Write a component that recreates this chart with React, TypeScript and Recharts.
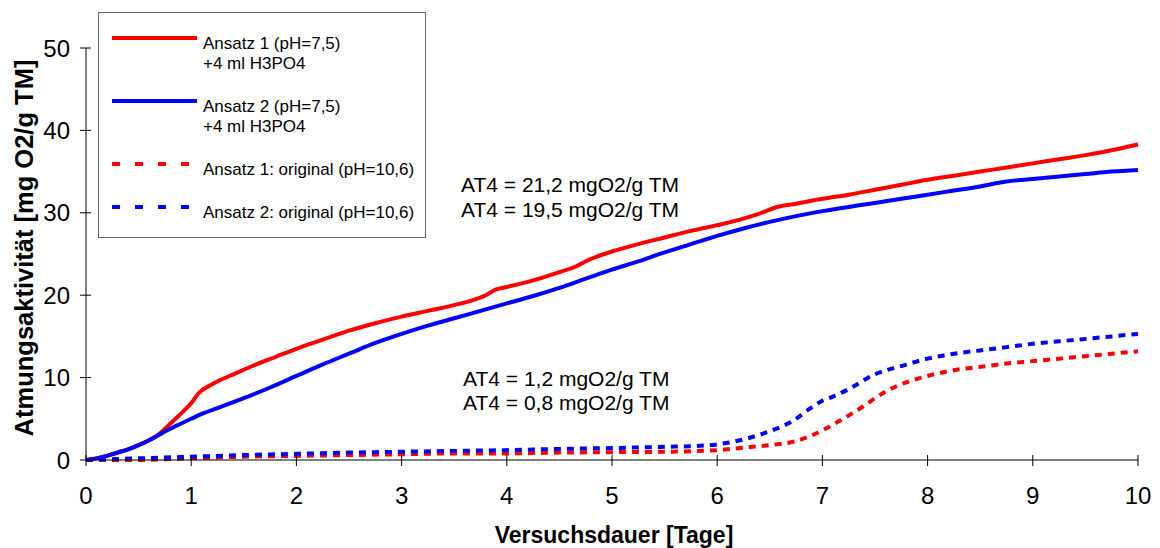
import { Line, LineChart, XAxis, YAxis } from "recharts";

const FONT = '"Liberation Sans", Arial, sans-serif';
const RED = "#ff0000";
const BLUE = "#0000ff";

// tick labels
const dayTicks = [0, 1, 2, 3, 4, 5, 6, 7, 8, 9, 10];
const valueTicks = [0, 10, 20, 30, 40, 50];

// Ansatz 1, pH 7,5 (+4 ml H3PO4)
const ansatz1Days = [
  0, 0.1, 0.2, 0.3, 0.4, 0.5, 0.6, 0.7, 0.8, 0.9, 1.0, 1.07, 1.2, 1.4, 1.6, 1.8, 2.0, 2.25, 2.5, 2.75,
  3.0, 3.25, 3.5, 3.7, 3.8, 3.9, 4.0, 4.25, 4.5, 4.62, 4.8, 5.0, 5.25, 5.5, 5.75, 6.0, 6.25, 6.4, 6.57,
  6.75, 7.0, 7.25, 7.5, 7.75, 8.0, 8.25, 8.5, 8.75, 9.0, 9.25, 9.5, 9.75, 10,
];
const ansatz1 = [
  0, 0.2, 0.5, 0.9, 1.3, 1.8, 2.4, 3.2, 4.4, 5.6, 6.9, 8.1, 9.2, 10.4, 11.5, 12.5, 13.5, 14.6, 15.7, 16.6,
  17.4, 18.1, 18.8, 19.5, 20.0, 20.7, 21.0, 21.8, 22.8, 23.3, 24.4, 25.3, 26.2, 27.0, 27.8, 28.5, 29.3, 29.9,
  30.7, 31.1, 31.7, 32.2, 32.8, 33.4, 34.0, 34.5, 35.0, 35.5, 36.0, 36.5, 37.0, 37.6, 38.3,
];

// Ansatz 2, pH 7,5 (+4 ml H3PO4)
const ansatz2Days = [
  0, 0.1, 0.2, 0.3, 0.4, 0.5, 0.6, 0.7, 0.8, 0.9, 1.0, 1.1, 1.25, 1.5, 1.75, 2.0, 2.25, 2.5, 2.75, 3.0,
  3.25, 3.5, 3.75, 4.0, 4.25, 4.5, 4.75, 5.0, 5.25, 5.5, 5.75, 6.0, 6.25, 6.5, 6.75, 7.0, 7.14, 7.25, 7.5,
  7.75, 8.0, 8.25, 8.5, 8.75, 9.0, 9.25, 9.5, 9.75, 10,
];
const ansatz2 = [
  0, 0.2, 0.5, 0.9, 1.3, 1.8, 2.4, 3.1, 3.8, 4.4, 5.0, 5.6, 6.3, 7.5, 8.8, 10.2, 11.6, 12.9, 14.2, 15.3,
  16.3, 17.2, 18.1, 19.0, 19.9, 20.9, 22.0, 23.1, 24.1, 25.2, 26.2, 27.2, 28.1, 28.9, 29.6, 30.2, 30.5, 30.7,
  31.2, 31.7, 32.2, 32.7, 33.2, 33.8, 34.1, 34.4, 34.7, 35.0, 35.2,
];

// Ansatz 1, original (pH 10,6)
const original1Days = [
  0, 0.25, 0.5, 0.75, 1.0, 1.5, 2.0, 2.5, 3.0, 3.5, 4.0, 4.5, 5.0, 5.5, 6.0, 6.25, 6.5, 6.75, 6.9, 7.0,
  7.1, 7.25, 7.4, 7.5, 7.6, 7.75, 8.0, 8.25, 8.5, 8.75, 9.0, 9.25, 9.5, 9.75, 10,
];
const original1 = [
  0, 0, 0, 0.1, 0.2, 0.4, 0.5, 0.6, 0.7, 0.8, 0.8, 0.9, 0.95, 1.0, 1.2, 1.5, 1.8, 2.3, 3.0, 3.6,
  4.3, 5.4, 6.6, 7.5, 8.3, 9.2, 10.2, 10.9, 11.3, 11.7, 12.0, 12.3, 12.6, 12.9, 13.2,
];

// Ansatz 2, original (pH 10,6)
const original2Days = [
  0, 0.5, 1.0, 1.5, 2.0, 2.5, 3.0, 3.5, 4.0, 4.5, 5.0, 5.5, 5.8, 6.0, 6.25, 6.5, 6.7, 6.9, 7.0, 7.1,
  7.25, 7.5, 7.75, 8.0, 8.25, 8.5, 8.75, 9.0, 9.25, 9.5, 9.75, 10,
];
const original2 = [
  0, 0.2, 0.4, 0.6, 0.75, 0.9, 1.0, 1.1, 1.2, 1.35, 1.45, 1.6, 1.7, 1.9, 2.5, 3.5, 4.6, 6.4, 7.2, 7.7,
  8.6, 10.4, 11.4, 12.3, 12.9, 13.3, 13.7, 14.1, 14.4, 14.7, 15.0, 15.3,
];

const toPoints = (days: number[], values: number[]) =>
  days.map((day, i) => ({ day, value: values[i] }));

const series = [
  { key: "a1", data: toPoints(ansatz1Days, ansatz1), color: RED, dash: undefined },
  { key: "a2", data: toPoints(ansatz2Days, ansatz2), color: BLUE, dash: undefined },
  { key: "o1", data: toPoints(original1Days, original1), color: RED, dash: "7 6" },
  { key: "o2", data: toPoints(original2Days, original2), color: BLUE, dash: "7 6" },
];

const legendItems = [
  { lines: ["Ansatz 1 (pH=7,5)", "+4 ml H3PO4"], color: RED, dash: undefined, y: 26 },
  { lines: ["Ansatz 2 (pH=7,5)", "+4 ml H3PO4"], color: BLUE, dash: undefined, y: 89 },
  { lines: ["Ansatz 1: original (pH=10,6)"], color: RED, dash: "8 15", y: 152 },
  { lines: ["Ansatz 2: original (pH=10,6)"], color: BLUE, dash: "8 15", y: 195 },
];

const annotations = [
  { text: "AT4 = 21,2 mgO2/g TM", x: 461, y: 192 },
  { text: "AT4 = 19,5 mgO2/g TM", x: 461, y: 217 },
  { text: "AT4 = 1,2 mgO2/g TM", x: 463, y: 386 },
  { text: "AT4 = 0,8 mgO2/g TM", x: 463, y: 410 },
];

function DayTick({ x, y, payload }: any) {
  return (
    <g>
      <line x1={x} x2={x} y1={y - 5} y2={y + 6} stroke="#000" strokeWidth={1} />
      <text x={x} y={y + 44} textAnchor="middle" fontSize={24} fontFamily={FONT} fill="#000">
        {payload.value}
      </text>
    </g>
  );
}

function ValueTick({ x, y, payload }: any) {
  return (
    <g>
      <line x1={x - 6} x2={x + 5} y1={y} y2={y} stroke="#000" strokeWidth={1} />
      <text x={x - 16} y={y + 8.5} textAnchor="end" fontSize={24} fontFamily={FONT} fill="#000">
        {payload.value}
      </text>
    </g>
  );
}

export default function App() {
  return (
    <div style={{ position: "absolute", left: 0, top: 0, width: 1160, height: 548, background: "#fff" }}>
      <LineChart width={1160} height={548} margin={{ top: 48, right: 22, bottom: 28, left: 30 }}>
        <XAxis
          type="number"
          dataKey="day"
          domain={[0, 10]}
          ticks={dayTicks}
          interval={0}
          height={60}
          tickSize={0}
          tickMargin={0}
          tickLine={false}
          axisLine={{ stroke: "#000", strokeWidth: 1 }}
          tick={DayTick}
          allowDuplicatedCategory={false}
        />
        <YAxis
          type="number"
          domain={[0, 50]}
          ticks={valueTicks}
          interval={0}
          width={56}
          tickSize={0}
          tickMargin={0}
          tickLine={false}
          axisLine={{ stroke: "#000", strokeWidth: 1 }}
          tick={ValueTick}
        />
        {series.map((s) => (
          <Line
            key={s.key}
            data={s.data}
            dataKey="value"
            type="monotone"
            stroke={s.color}
            strokeWidth={4}
            strokeDasharray={s.dash}
            dot={false}
            activeDot={false}
            isAnimationActive={false}
          />
        ))}
      </LineChart>

      <svg
        width={1160}
        height={548}
        style={{ position: "absolute", left: 0, top: 0, pointerEvents: "none" }}
        fontFamily={FONT}
      >
        {/* legend box */}
        <g transform="translate(98,12)">
          <rect x={0.5} y={0.5} width={327} height={225} fill="#fff" stroke="#666" strokeWidth={1} />
          {legendItems.map((item) => (
            <g key={item.lines[0]}>
              <line
                x1={14}
                x2={99}
                y1={item.y}
                y2={item.y}
                stroke={item.color}
                strokeWidth={4}
                strokeDasharray={item.dash}
              />
              {item.lines.map((t, i) => (
                <text key={t} x={105} y={item.y + 11 + i * 20} fontSize={17} fill="#000">
                  {t}
                </text>
              ))}
            </g>
          ))}
        </g>

        {annotations.map((a) => (
          <text key={a.text} x={a.x} y={a.y} fontSize={21} fill="#000">
            {a.text}
          </text>
        ))}

        <text x={614} y={543} textAnchor="middle" fontSize={23} fontWeight="bold" fill="#000">
          Versuchsdauer [Tage]
        </text>
        <text
          transform="translate(33,248) rotate(-90)"
          textAnchor="middle"
          fontSize={25.5}
          fontWeight="bold"
          fill="#000"
        >
          Atmungsaktivität [mg O2/g TM]
        </text>
      </svg>
    </div>
  );
}
